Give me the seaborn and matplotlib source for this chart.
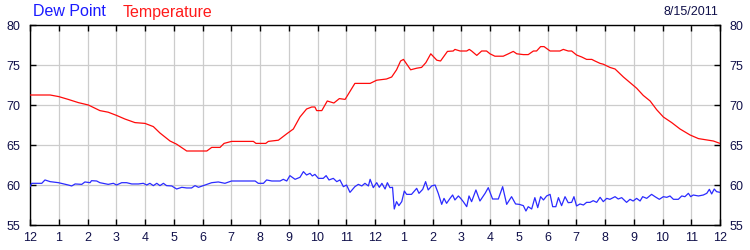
import matplotlib
matplotlib.use("Agg")
import matplotlib.pyplot as plt
import seaborn as sns
import pandas as pd

# ---- data (hours since midnight, degrees F) ----
temp_hours = [0.0, 0.7, 1.0, 1.33, 1.68, 2.03, 2.43, 2.72, 3.01, 3.3, 3.65, 4.0, 4.29, 4.52,
              4.87, 5.1, 5.39, 5.45, 6.15, 6.32, 6.61, 6.75, 7.01, 7.77, 7.86, 8.2, 8.29,
              8.64, 8.93, 9.16, 9.39, 9.62, 9.8, 9.91, 9.97, 10.15, 10.34, 10.57, 10.76,
              10.96, 11.3, 11.83, 12.06, 12.4, 12.58, 12.75, 12.89, 12.99, 13.24, 13.45,
              13.62, 13.77, 13.94, 14.15, 14.28, 14.52, 14.72, 14.78, 14.96, 15.19, 15.28,
              15.36, 15.54, 15.71, 15.88, 16.0, 16.17, 16.46, 16.64, 16.81, 16.93, 17.16,
              17.33, 17.51, 17.62, 17.76, 17.88, 18.09, 18.43, 18.55, 18.72, 18.84, 19.01,
              19.19, 19.36, 19.54, 19.65, 19.83, 19.94, 20.17, 20.35, 20.64, 20.87, 21.1,
              21.33, 21.57, 21.8, 22.03, 22.32, 22.61, 22.96, 23.25, 23.77, 24.0]
temperature = [71.25, 71.25, 71.05, 70.7, 70.3, 70.0, 69.3, 69.1, 68.7, 68.25, 67.8, 67.7,
               67.3, 66.5, 65.5, 65.1, 64.4, 64.25, 64.25, 64.7, 64.7, 65.2, 65.45, 65.45,
               65.2, 65.2, 65.45, 65.6, 66.4, 67.0, 68.5, 69.5, 69.75, 69.75, 69.3, 69.3,
               70.5, 70.25, 70.8, 70.7, 72.7, 72.7, 73.1, 73.25, 73.5, 74.4, 75.5, 75.7,
               74.4, 74.6, 74.7, 75.3, 76.4, 75.6, 75.5, 76.7, 76.75, 76.95, 76.75, 76.75,
               76.95, 76.75, 76.2, 76.75, 76.75, 76.4, 76.1, 76.1, 76.4, 76.7, 76.4, 76.3,
               76.3, 76.75, 76.75, 77.3, 77.3, 76.75, 76.75, 76.95, 76.75, 76.75, 76.25,
               76.0, 75.7, 75.7, 75.5, 75.2, 75.1, 74.7, 74.5, 73.5, 72.8, 72.1, 71.2, 70.5,
               69.4, 68.5, 67.8, 67.0, 66.25, 65.8, 65.5, 65.2]

dew_hours = [0.0, 0.06, 0.41, 0.52, 0.70, 0.99, 1.33, 1.45, 1.57, 1.80, 1.91, 2.09, 2.14,
             2.32, 2.43, 2.72, 2.90, 3.01, 3.19, 3.36, 3.54, 3.77, 3.94, 4.06, 4.17, 4.29,
             4.41, 4.52, 4.64, 4.75, 4.93, 5.10, 5.28, 5.45, 5.62, 5.74, 5.86, 6.03, 6.32,
             6.55, 6.78, 7.01, 7.83, 7.94, 8.12, 8.23, 8.41, 8.70, 8.81, 8.93, 9.04, 9.22,
             9.39, 9.51, 9.62, 9.74, 9.82, 9.91, 10.03, 10.20, 10.30, 10.40, 10.55, 10.67,
             10.78, 10.90, 11.01, 11.13, 11.30, 11.42, 11.54, 11.65, 11.77,
             11.83, 11.94, 12.06, 12.15, 12.24, 12.35, 12.43, 12.52, 12.61, 12.67, 12.75,
             12.83, 12.93, 13.02, 13.10, 13.27, 13.45, 13.53, 13.66, 13.76, 13.85, 13.97,
             14.09, 14.20, 14.32, 14.40, 14.49, 14.61, 14.70, 14.78, 14.90, 14.98, 15.07,
             15.19, 15.27, 15.36, 15.51, 15.65, 15.83, 15.94, 16.09, 16.29, 16.44, 16.58,
             16.75, 16.89, 17.02, 17.16, 17.25, 17.33, 17.45, 17.56, 17.66, 17.76, 17.86,
             17.97, 18.09, 18.18, 18.29, 18.38, 18.49, 18.61, 18.72, 18.84, 18.92, 19.01,
             19.13, 19.25, 19.36, 19.48, 19.59, 19.71, 19.83, 19.94, 20.06, 20.17, 20.35,
             20.46, 20.58, 20.75, 20.87, 20.98, 21.10, 21.22, 21.31, 21.45, 21.62, 21.74,
             21.89, 22.03, 22.15, 22.26, 22.38, 22.55, 22.67, 22.78, 22.90, 22.98, 23.07,
             23.25, 23.42, 23.54, 23.63, 23.71, 23.80, 23.88, 24.0]
dew_point = [59.79, 60.21, 60.21, 60.63, 60.42, 60.29, 60.0, 59.88, 60.13, 60.08, 60.38,
             60.29, 60.54, 60.5, 60.29, 60.08, 60.21, 60.0, 60.29, 60.29, 60.13, 60.13,
             60.21, 60.0, 60.21, 59.92, 60.21, 59.92, 60.21, 59.92, 59.88, 59.5, 59.71,
             59.63, 59.63, 59.92, 59.71, 59.92, 60.29, 60.38, 60.21, 60.5, 60.5, 60.21,
             60.21, 60.63, 60.5, 60.5, 60.71, 60.5, 61.17, 60.71, 60.96, 61.67, 61.25,
             61.46, 61.13, 61.33, 60.83, 60.83, 61.17, 60.63, 60.83, 60.42, 60.63, 59.79,
             60.0, 59.08, 59.79, 60.08, 59.88, 60.21, 59.88,
             60.71, 59.67, 60.29, 59.71, 60.21, 59.5, 60.29, 59.67, 59.71, 57.0, 57.92,
             57.42, 57.92, 59.25, 58.83, 58.83, 59.58, 58.96, 59.46, 60.42, 59.38, 59.88,
             60.0, 58.96, 57.58, 58.33, 57.71, 58.33, 58.75, 58.13, 58.63, 58.33, 57.92,
             57.29, 58.63, 57.92, 59.38, 58.0, 58.96, 59.67, 58.25, 58.25, 59.79, 57.58,
             58.54, 57.63, 57.58, 57.42, 56.75, 57.29, 57.0, 58.42, 57.17, 58.54, 58.13,
             58.63, 58.83, 57.29, 57.29, 58.42, 57.42, 58.54, 57.79, 57.83, 58.54, 57.38,
             57.63, 57.5, 57.83, 57.83, 58.04, 57.83, 58.46, 57.92, 58.33, 58.21, 58.54,
             58.25, 58.42, 57.83, 58.21, 58.0, 58.33, 58.0, 58.54, 58.33, 58.83, 58.54,
             58.21, 58.54, 58.46, 58.63, 58.21, 58.21, 58.63, 58.54, 58.96, 58.54, 58.75,
             58.63, 58.75, 58.96, 59.46, 58.88, 59.5, 59.17, 59.08]

hour_ticks = list(range(0, 25))
hour_labels = ["12", "1", "2", "3", "4", "5", "6", "7", "8", "9", "10", "11",
               "12", "1", "2", "3", "4", "5", "6", "7", "8", "9", "10", "11", "12"]
y_ticks = [55, 60, 65, 70, 75, 80]

# ---- styling ----
sns.set_style("white")
plt.rcParams["font.family"] = ["Liberation Sans", "DejaVu Sans"]

label_color = "#10104a"
blue = "#2b2bff"
red = "#ff0a0a"

fig = plt.figure(figsize=(7.5, 2.5), dpi=100)
ax = fig.add_axes([30 / 750, 25 / 250, 690 / 750, 200 / 250])

temp_df = pd.DataFrame({"hour": temp_hours, "value": temperature})
dew_df = pd.DataFrame({"hour": dew_hours, "value": dew_point})

sns.lineplot(data=temp_df, x="hour", y="value", ax=ax, color=red, linewidth=0.9, zorder=3)
sns.lineplot(data=dew_df, x="hour", y="value", ax=ax, color=blue, linewidth=0.9, zorder=3)

ax.set_xlim(0, 24)
ax.set_ylim(55, 80)
ax.set_xticks(hour_ticks)
ax.set_xticklabels(hour_labels)
ax.set_yticks(y_ticks)
ax.set_xlabel("")
ax.set_ylabel("")

ax.grid(True, color="#cccccc", linewidth=0.9, zorder=0)
ax.set_axisbelow(True)
for s in ax.spines.values():
    s.set_visible(True)
    s.set_color("black")
    s.set_linewidth(1.0)

ax.tick_params(axis="x", direction="in", length=4, width=1, top=True, bottom=True,
               labelsize=9, labelcolor=label_color, pad=5, color="black")
ax.tick_params(axis="y", direction="in", length=4, width=1, left=True, right=True,
               labelleft=True, labelright=True, labelsize=9, labelcolor=label_color,
               pad=7, color="black")

fig.text(33 / 750, 1 - 12 / 250, "Dew Point", color="#1a1aff", fontsize=11.5,
         ha="left", va="center")
fig.text(123 / 750, 1 - 12 / 250, "Temperature", color="#ff1a1a", fontsize=11.5,
         ha="left", va="center")
fig.text(718 / 750, 1 - 12 / 250, "8/15/2011", color=label_color, fontsize=9,
         ha="right", va="center")

fig.savefig("out.png", dpi=100)
